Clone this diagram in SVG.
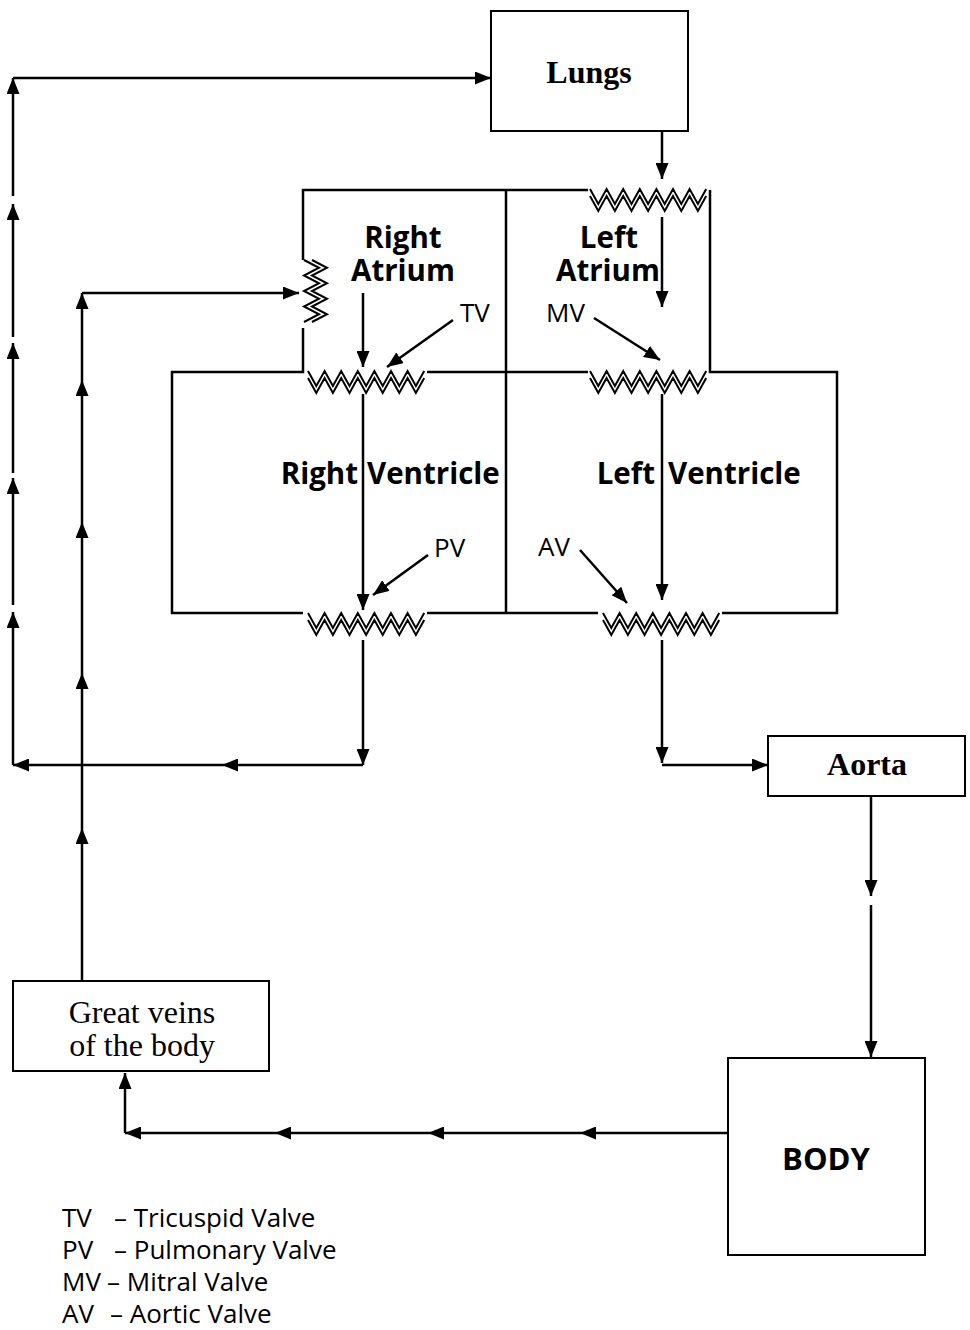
<svg xmlns="http://www.w3.org/2000/svg" xmlns:xlink="http://www.w3.org/1999/xlink" width="970" height="1330" viewBox="0 0 970 1330">
<style>
.ln{fill:none;stroke:#000;stroke-width:2.5}
.box{fill:#fff;stroke:#000;stroke-width:2}
.ar{fill:none;stroke:#000;stroke-width:2.5;marker-end:url(#ah)}
.zz{fill:none;stroke:#000;stroke-width:2}
.hb{font-family:"Open Sans","Noto Sans",sans-serif;font-weight:bold;font-size:29.5px;fill:#000}
.bd{font-family:"Open Sans","Noto Sans",sans-serif;font-weight:bold;font-size:31px;fill:#000}
.ab{font-family:"Open Sans","Noto Sans",sans-serif;font-size:26px;fill:#000}
.sb{font-family:"Liberation Serif","Times New Roman",serif;font-weight:bold;font-size:32px;fill:#000}
.sr{font-family:"Liberation Serif","Times New Roman",serif;font-size:32px;fill:#000}
</style>
<defs>
<marker id="ah" markerWidth="16" markerHeight="13" refX="16" refY="6.5" orient="auto" markerUnits="userSpaceOnUse">
<path d="M0,0 L16,6.5 L0,13 Z" fill="#000"/>
</marker>
<g id="zzh">
<path class="zz" d="M0,0 L8.3,15 L16.6,0 L24.9,15 L33.2,0 L41.5,15 L49.8,0 L58.1,15 L66.4,0 L74.7,15 L83,0 L91.3,15 L99.6,0 L107.9,15 L116.2,0"/>
<path class="zz" transform="translate(0,7)" d="M0,0 L8.3,15 L16.6,0 L24.9,15 L33.2,0 L41.5,15 L49.8,0 L58.1,15 L66.4,0 L74.7,15 L83,0 L91.3,15 L99.6,0 L107.9,15 L116.2,0"/>
</g>
<g id="zzv">
<path class="zz" d="M0,0 L15,7.75 L0,15.5 L15,23.25 L0,31 L15,38.75 L0,46.5 L15,54.25 L0,62"/>
<path class="zz" transform="translate(8,0)" d="M0,0 L15,7.75 L0,15.5 L15,23.25 L0,31 L15,38.75 L0,46.5 L15,54.25 L0,62"/>
</g>
</defs>
<rect width="970" height="1330" fill="#fff"/>

<g id="lungs">
<rect class="box" x="491" y="11" width="197" height="120"/>
<text class="sb" x="589" y="83" text-anchor="middle">Lungs</text>
</g>

<g id="heart-walls">
<path class="ln" d="M303,260 L303,190 L588,190"/>
<path class="ln" d="M710,190 L710,372 L837,372 L837,613 L722,613"/>
<path class="ln" d="M303,328 L303,372 L172,372 L172,613 L303,613"/>
<path class="ln" d="M427,372 L588,372"/>
<path class="ln" d="M427,613 L598,613"/>
<path class="ln" d="M506,190 L506,613"/>
</g>

<g id="right-atrium">
<text class="hb" x="403" y="248" text-anchor="middle">Right</text>
<text class="hb" x="403" y="281" text-anchor="middle">Atrium</text>
</g>
<g id="left-atrium">
<text class="hb" x="609" y="248" text-anchor="middle">Left</text>
<text class="hb" x="608" y="281" text-anchor="middle">Atrium</text>
</g>
<g id="right-ventricle">
<text class="hb" x="358" y="484" text-anchor="end">Right</text>
<text class="hb" x="367" y="484">Ventricle</text>
</g>
<g id="left-ventricle">
<text class="hb" x="655" y="484" text-anchor="end">Left</text>
<text class="hb" x="668" y="484">Ventricle</text>
</g>

<g id="valves">
<use xlink:href="#zzh" x="308" y="371"/>
<use xlink:href="#zzh" x="590" y="189"/>
<use xlink:href="#zzh" x="590" y="371"/>
<use xlink:href="#zzh" x="308" y="613"/>
<use xlink:href="#zzh" x="603" y="613"/>
<use xlink:href="#zzv" x="304" y="260"/>
<text class="ab" x="460" y="322">TV</text>
<text class="ab" x="546" y="322">MV</text>
<text class="ab" x="434" y="557">PV</text>
<text class="ab" x="538" y="556">AV</text>
</g>

<g id="aorta">
<rect class="box" x="768" y="736" width="197" height="60"/>
<text class="sb" x="867" y="775" text-anchor="middle">Aorta</text>
</g>

<g id="body">
<rect class="box" x="728" y="1058" width="197" height="197"/>
<text class="bd" x="826" y="1170" text-anchor="middle">BODY</text>
</g>

<g id="great-veins">
<rect class="box" x="13" y="981" width="256" height="90"/>
<text class="sr" x="142" y="1023" text-anchor="middle">Great veins</text>
<text class="sr" x="142" y="1056" text-anchor="middle">of the body</text>
</g>

<g id="connectors">
<path class="ar" d="M13,78 L491,78"/>
<path class="ar" d="M13,765 L13,612"/>
<path class="ar" d="M13,605 L13,478"/>
<path class="ar" d="M13,473 L13,343"/>
<path class="ar" d="M13,337 L13,204"/>
<path class="ar" d="M13,196 L13,78"/>
<path class="ar" d="M363,765 L222,765"/>
<path class="ar" d="M222,765 L13,765"/>
<path class="ar" d="M363,640 L363,765"/>
<path class="ar" d="M82,981 L82,828"/>
<path class="ar" d="M82,828 L82,673"/>
<path class="ar" d="M82,673 L82,522"/>
<path class="ar" d="M82,522 L82,380"/>
<path class="ar" d="M82,380 L82,293"/>
<path class="ar" d="M82,293 L299,293"/>
<path class="ar" d="M363,293 L363,367"/>
<path class="ar" d="M453,320 L387,367"/>
<path class="ar" d="M363,394 L363,610"/>
<path class="ar" d="M428,555 L373,595"/>
<path class="ar" d="M662,131 L662,179"/>
<path class="ar" d="M662,217 L662,307"/>
<path class="ar" d="M594,318 L660,360"/>
<path class="ar" d="M662,394 L662,600"/>
<path class="ar" d="M580,550 L627,603"/>
<path class="ar" d="M662,640 L662,763"/>
<path class="ar" d="M662,765 L768,765"/>
<path class="ar" d="M871,797 L871,896"/>
<path class="ar" d="M871,905 L871,1057"/>
<path class="ar" d="M728,1133 L580,1133"/>
<path class="ar" d="M580,1133 L428,1133"/>
<path class="ar" d="M428,1133 L275,1133"/>
<path class="ar" d="M275,1133 L125,1133"/>
<path class="ar" d="M125,1133 L125,1073"/>
</g>

<g id="legend">
<text class="ab" x="62" y="1227">TV</text><text class="ab" x="114" y="1227">– Tricuspid Valve</text>
<text class="ab" x="62" y="1259">PV</text><text class="ab" x="114" y="1259">– Pulmonary Valve</text>
<text class="ab" x="62" y="1291">MV</text><text class="ab" x="107" y="1291">– Mitral Valve</text>
<text class="ab" x="62" y="1323">AV</text><text class="ab" x="110" y="1323">– Aortic Valve</text>
</g>
</svg>
